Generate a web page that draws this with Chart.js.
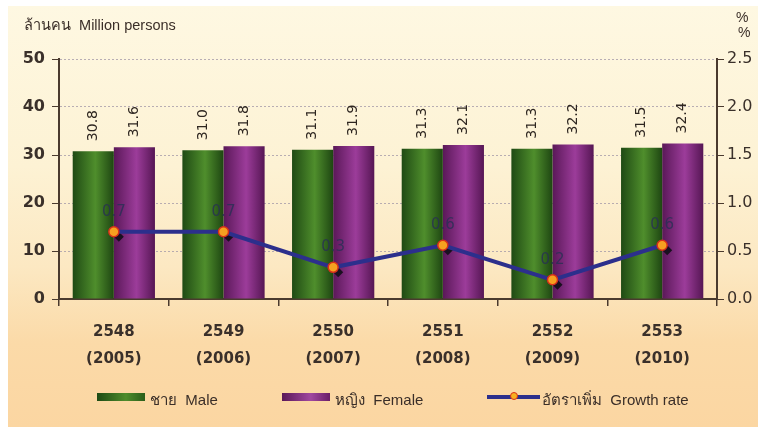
<!DOCTYPE html>
<html>
<head>
<meta charset="utf-8">
<script src="https://cdn.jsdelivr.net/npm/chart.js@4.4.1/dist/chart.umd.min.js"></script>
<style>
  html, body { margin: 0; padding: 0; background: #fff; }
  #wrap { position: relative; width: 758px; height: 427px; overflow: hidden; }
  #panel { position: absolute; left: 8px; top: 6px; width: 750px; height: 421px;
           background: linear-gradient(to bottom, #fef8e2 0%, #fdf2d4 38%, #fce8c2 62%, #fbdaa8 80%, #fbd6a2 100%); }
  #chart { position: absolute; left: 0; top: 0; }
  .txt { position: absolute; font-family: "Liberation Sans", Arial, sans-serif; color: #3a2e28; white-space: nowrap; }
  .sw { position: absolute; height: 8px; }
</style>
</head>
<body>
<div id="wrap">
  <div id="panel"></div>
  <canvas id="chart" width="758" height="427"></canvas>
  <div class="txt" style="left:24px; top:13px; font-size:14.5px;">ล้านคน&nbsp; Million persons</div>
  <div class="txt" style="left:736px; top:9px; font-size:14px;">%</div>
  <div class="txt" style="left:738px; top:24px; font-size:14px;">%</div>

  <div class="sw" style="left:97px; top:393px; width:48px; background:linear-gradient(to right,#1d4a14,#4e8c2c 60%,#2a5e1a);"></div>
  <div class="txt" style="left:150px; top:388px; font-size:15px;">ชาย&nbsp; Male</div>
  <div class="sw" style="left:282px; top:393px; width:48px; background:linear-gradient(to right,#5a1858,#a048a0 60%,#6a1e68);"></div>
  <div class="txt" style="left:335px; top:388px; font-size:15px;">หญิง&nbsp; Female</div>
  <div class="sw" style="left:487px; top:395px; width:53px; height:4px; background:#2c2f8c;"></div>
  <div style="position:absolute; left:510px; top:392px; width:8px; height:8px; border-radius:50%; background:#f7b020; border:1.5px solid #d8301a; box-sizing:border-box;"></div>
  <div class="txt" style="left:542px; top:388px; font-size:15px;">อัตราเพิ่ม&nbsp; Growth rate</div>
</div>
<script>
// years (Thai / Western)
const yearsThai = ['2548', '2549', '2550', '2551', '2552', '2553'];
const yearsAD = ['(2005)', '(2006)', '(2007)', '(2008)', '(2009)', '(2010)'];
// million persons
const male = [30.8, 31.0, 31.1, 31.3, 31.3, 31.5];
const female = [31.6, 31.8, 31.9, 32.1, 32.2, 32.4];
// growth rate %
const growth = [0.7, 0.7, 0.33, 0.56, 0.2, 0.56];

const catPct = 0.75;

function barGradient(stops, side) {
    return function (c) {
        const chart = c.chart;
        const xs = chart.scales.x;
        if (!chart.chartArea || !xs || c.dataIndex === undefined) return stops[1];
        const center = xs.getPixelForValue(c.dataIndex);
        const w = xs.width / yearsThai.length * catPct / 2;
        const left = side === 0 ? center - w : center;
        const g = chart.ctx.createLinearGradient(left, 0, left + w, 0);
        g.addColorStop(0, stops[0]);
        g.addColorStop(0.55, stops[1]);
        g.addColorStop(1, stops[2]);
        return g;
    };
}

const labelsPlugin = {
    id: 'valueLabels',
    afterDatasetsDraw(chart) {
        const ctx = chart.ctx;
        ctx.save();
        // bar values, rotated
        [0, 1].forEach(di => {
            const meta = chart.getDatasetMeta(di);
            const vals = chart.data.datasets[di].data;
            meta.data.forEach((bar, i) => {
                ctx.save();
                ctx.translate(bar.x, bar.y - 10);
                ctx.rotate(-Math.PI / 2);
                ctx.font = '14px "DejaVu Sans", sans-serif';
                ctx.fillStyle = '#2e2620';
                ctx.textAlign = 'left';
                ctx.textBaseline = 'middle';
                ctx.fillText(vals[i].toFixed(1), 0, 0);
                ctx.restore();
            });
        });
        ctx.restore();
    },
    afterDraw(chart) {
        const ctx = chart.ctx;
        const meta = chart.getDatasetMeta(2);
        ctx.save();
        meta.data.forEach((pt, i) => {
            ctx.font = '15px "DejaVu Sans", sans-serif';
            ctx.fillStyle = 'rgba(40,48,85,0.8)';
            ctx.textAlign = 'center';
            ctx.textBaseline = 'middle';
            ctx.fillText(growth[i].toFixed(1), pt.x, pt.y - 20);
        });
        ctx.restore();
    },
    beforeDatasetDraw(chart, args) {
        if (args.index !== 2) return;
        // dark diamond shadow under markers
        const ctx = chart.ctx;
        const meta = chart.getDatasetMeta(2);
        ctx.save();
        ctx.fillStyle = '#1a1020';
        meta.data.forEach(pt => {
            const x = pt.x + 5, y = pt.y + 5, r = 5;
            ctx.beginPath();
            ctx.moveTo(x, y - r); ctx.lineTo(x + r, y); ctx.lineTo(x, y + r); ctx.lineTo(x - r, y);
            ctx.closePath();
            ctx.fill();
        });
        ctx.restore();
    }
};

const axisColor = '#4a3a2e';

new Chart(document.getElementById('chart'), {
    type: 'bar',
    data: {
        labels: yearsThai.map((y, i) => [y, yearsAD[i]]),
        datasets: [
            {
                label: 'ชาย Male',
                data: male,
                backgroundColor: barGradient(['#1f4a14', '#4f8e2c', '#1e4612'], 0),
                categoryPercentage: catPct,
                barPercentage: 1,
                yAxisID: 'y',
                order: 2
            },
            {
                label: 'หญิง Female',
                data: female,
                backgroundColor: barGradient(['#5a1858', '#9c3c9a', '#561654'], 1),
                categoryPercentage: catPct,
                barPercentage: 1,
                yAxisID: 'y',
                order: 2
            },
            {
                type: 'line',
                label: 'อัตราเพิ่ม Growth rate',
                data: growth,
                yAxisID: 'y1',
                borderColor: '#2c2f8c',
                borderWidth: 4,
                pointRadius: 5,
                pointBackgroundColor: '#f6a020',
                pointBorderColor: '#d8301a',
                pointBorderWidth: 1.5,
                tension: 0,
                order: 1
            }
        ]
    },
    options: {
        responsive: false,
        animation: false,
        layout: { padding: { top: 59, left: 0, right: 0, bottom: 0 } },
        plugins: { legend: { display: false }, tooltip: { enabled: false } },
        scales: {
            x: {
                offset: true,
                afterFit: s => { s.height = 128; },
                grid: { drawOnChartArea: false, offset: true, tickLength: 7, tickColor: axisColor, lineWidth: 1.5 },
                border: { color: axisColor, width: 2 },
                ticks: {
                    color: '#3a302a',
                    padding: 13,
                    font: { family: '"DejaVu Sans", sans-serif', size: 15, weight: 'bold', lineHeight: 1.8 }
                }
            },
            y: {
                position: 'left',
                min: 0, max: 50,
                afterFit: s => { s.width = 59; },
                grid: { color: 'rgba(160,150,165,0.75)', tickColor: axisColor, tickLength: 7, tickBorderDash: [], lineWidth: 1 },
                border: { color: axisColor, width: 2, dash: [2, 2] },
                ticks: {
                    stepSize: 10,
                    padding: 7,
                    color: '#3a302a',
                    font: { family: '"DejaVu Sans", sans-serif', size: 16, weight: 'bold' }
                }
            },
            y1: {
                position: 'right',
                min: 0, max: 2.5,
                afterFit: s => { s.width = 41; },
                grid: { drawOnChartArea: false, tickColor: axisColor, tickLength: 7 },
                border: { color: axisColor, width: 2 },
                ticks: {
                    stepSize: 0.5,
                    padding: 3,
                    color: '#3a302a',
                    callback: v => Number(v).toFixed(1),
                    font: { family: '"DejaVu Sans", sans-serif', size: 16 }
                }
            }
        }
    },
    plugins: [labelsPlugin]
});
</script>
</body>
</html>
